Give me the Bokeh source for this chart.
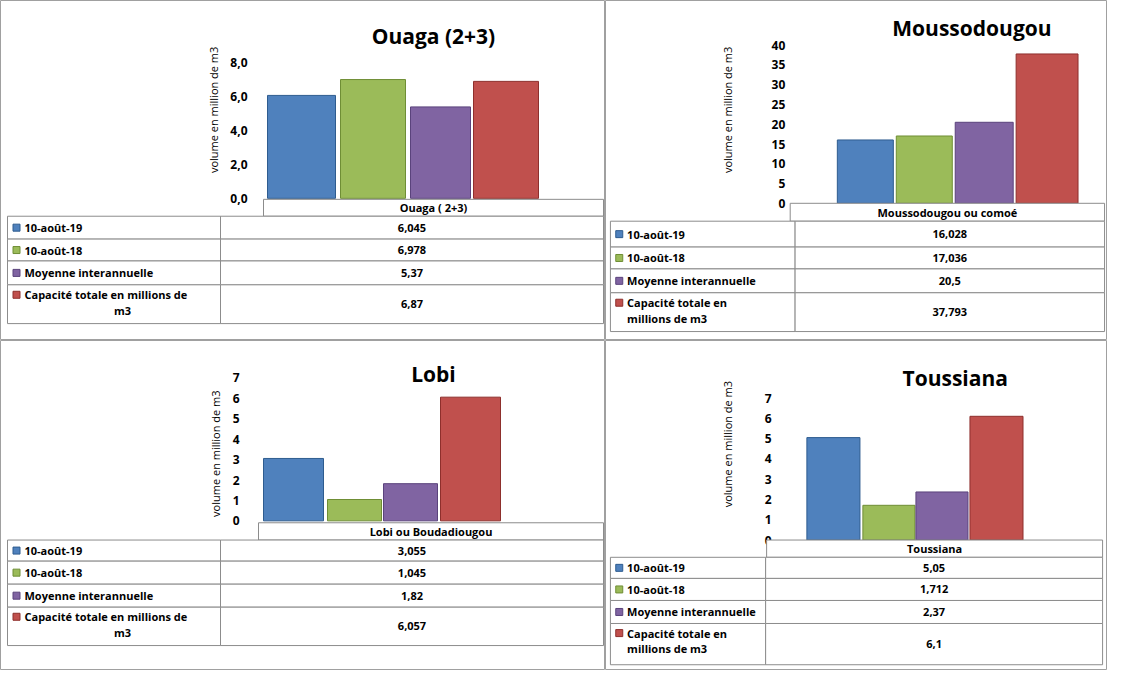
from bokeh.plotting import figure
from bokeh.models import Range1d
from bokeh.layouts import column, row
from bokeh.core.properties import value
from bokeh.embed import file_html
from bokeh.resources import INLINE
import math

series = ["10-août-19", "10-août-18", "Moyenne interannuelle", "Capacité totale en millions de m3"]
colors = ["#4F81BD", "#9BBB59", "#8064A2", "#C0504D"]
edges = ["#2E5C8F", "#6F8E35", "#5A437C", "#8E2F2C"]

ouaga_vals = [6.045, 6.978, 5.37, 6.87]
mousso_vals = [16.028, 17.036, 20.5, 37.793]
lobi_vals = [3.055, 1.045, 1.82, 6.057]
toussi_vals = [5.05, 1.712, 2.37, 6.1]

ouaga_ticks = [0, 2, 4, 6, 8]
mousso_ticks = [0, 5, 10, 15, 20, 25, 30, 35, 40]
lobi_ticks = [0, 1, 2, 3, 4, 5, 6, 7]
toussi_ticks = [0, 1, 2, 3, 4, 5, 6, 7]

FONT = value("Open Sans")


def fmt(v):
    return str(v).replace(".", ",")


def panel(cfg):
    ox, oy, W, H = cfg["frame"]
    y0, ytp, ytv = cfg["yscale"]
    k = (y0 - ytp) / ytv
    p = figure(width=cfg["w"], height=cfg["h"], output_backend="svg", toolbar_location=None,
               x_range=Range1d(ox, ox + W),
               y_range=Range1d((y0 - oy - H) / k, (y0 - oy) / k),
               min_border=0)
    p.extra_y_ranges = {"px": Range1d(oy + H, oy)}
    p.axis.visible = False
    p.grid.visible = False
    p.outline_line_color = "#A0A0A0"
    p.background_fill_color = "white"

    # title
    p.text(x=[cfg["title_xy"][0]], y=[cfg["title_xy"][1]], text=[cfg["title"]], y_range_name="px",
           text_font=FONT, text_font_style="bold", text_font_size="21px",
           text_align="center", text_baseline="middle")
    # axis label
    p.text(x=[cfg["axlab"][0]], y=[cfg["axlab"][1]], text=["volume en million de m3"], y_range_name="px",
           angle=math.pi / 2, text_font=FONT, text_font_size="11px",
           text_align="center", text_baseline="middle")
    # tick labels
    ticks = cfg["ticks"]
    labels = [cfg["tickfmt"](t) for t in ticks]
    p.text(x=[cfg["lab_x"]] * len(ticks), y=ticks, text=labels, text_font=FONT,
           text_font_style="bold", text_font_size="12px", text_align="right", text_baseline="middle")
    # bars
    bx = cfg["bars"]
    vals = cfg["vals"]
    p.vbar(x=[(a + b) / 2 for a, b in bx], width=[b - a for a, b in bx], top=vals, bottom=0,
           fill_color=colors, line_color=edges, line_width=1)
    # category header
    l, r, t, b = cfg["cat"]
    p.quad(left=[l], right=[r], top=[t], bottom=[b], y_range_name="px",
           fill_color="white", line_color="#8C8C8C")
    p.text(x=[(l + r) / 2], y=[(t + b) / 2], text=[cfg["cat_label"]], y_range_name="px",
           text_font=FONT, text_font_style="bold", text_font_size="11px",
           text_align="center", text_baseline="middle")
    # table
    tl, tm, tr = cfg["cols"]
    rows = cfg["rows"]
    tops = rows[:-1]
    bots = rows[1:]
    p.quad(left=[tl] * 4, right=[tm] * 4, top=tops, bottom=bots, y_range_name="px",
           fill_color="white", line_color="#8C8C8C")
    p.quad(left=[tm] * 4, right=[tr] * 4, top=tops, bottom=bots, y_range_name="px",
           fill_color="white", line_color="#8C8C8C")
    mids = [(a + b) / 2 for a, b in zip(tops, bots)]
    mk_y = mids[:3] + [tops[3] + 10]
    p.scatter(x=[tl + 9] * 4, y=mk_y, marker="square", size=7, fill_color=colors,
              line_color=edges, y_range_name="px")
    p.text(x=[tl + 17] * 3, y=mids[:3], text=cfg["legend"][:3], y_range_name="px",
           text_font=FONT, text_font_style="bold", text_font_size="11px",
           text_align="left", text_baseline="middle")
    l1, l2 = cfg["legend"][3]
    p.text(x=[tl + 17], y=[tops[3] + 10], text=[l1], y_range_name="px",
           text_font=FONT, text_font_style="bold", text_font_size="11px",
           text_align="left", text_baseline="middle")
    x2 = tl + 17 if cfg["l2_left"] else (tl + 17 + tm) / 2
    p.text(x=[x2], y=[tops[3] + 26], text=[l2], y_range_name="px",
           text_font=FONT, text_font_style="bold", text_font_size="11px",
           text_align="left" if cfg["l2_left"] else "center", text_baseline="middle")
    p.text(x=[(tm + tr) / 2] * 4, y=mids, text=[fmt(v) for v in vals], y_range_name="px",
           text_font=FONT, text_font_style="bold", text_font_size="11px",
           text_align="center", text_baseline="middle")
    return p


legend_a = series[:3] + [("Capacité totale en millions de", "m3")]
legend_b = series[:3] + [("Capacité totale en", "millions de m3")]

p1 = panel(dict(w=605, h=340, frame=(5, 0, 605, 342), yscale=(199, 62, 8),
                title="Ouaga (2+3)", title_xy=(438, 36), axlab=(218, 110),
                ticks=ouaga_ticks, tickfmt=lambda t: ("%.1f" % t).replace(".", ","), lab_x=252,
                bars=[(272, 340), (345, 410), (415, 475), (478, 543)], vals=ouaga_vals,
                cat=(268, 608, 200, 217), cat_label="Ouaga ( 2+3)",
                cols=(12, 225, 608), rows=[217, 240, 262, 286, 325], legend=legend_a, l2_left=False))
p2 = panel(dict(w=502, h=340, frame=(612, 0, 511, 342), yscale=(204, 45, 40),
                title="Moussodougou", title_xy=(985, 28), axlab=(736, 110),
                ticks=mousso_ticks, tickfmt=lambda t: str(t), lab_x=795,
                bars=[(848, 905), (908, 965), (968, 1027), (1030, 1093)], vals=mousso_vals,
                cat=(800, 1120, 204, 222), cat_label="Moussodougou ou comoé",
                cols=(617, 805, 1120), rows=[222, 248, 270, 294, 333], legend=legend_b, l2_left=True))
p3 = panel(dict(w=605, h=330, frame=(5, 342, 605, 344), yscale=(530, 381, 7),
                title="Lobi", title_xy=(438, 377), axlab=(220, 460),
                ticks=lobi_ticks, tickfmt=lambda t: str(t), lab_x=244,
                bars=[(268, 328), (332, 386), (388, 442), (445, 505)], vals=lobi_vals,
                cat=(263, 608, 532, 550), cat_label="Lobi ou Boudadiougou",
                cols=(12, 225, 608), rows=[550, 572, 596, 620, 660], legend=legend_a, l2_left=False))
p4 = panel(dict(w=502, h=330, frame=(612, 342, 511, 344), yscale=(550, 402, 7),
                title="Toussiana", title_xy=(968, 381), axlab=(736, 450),
                ticks=toussi_ticks, tickfmt=lambda t: str(t), lab_x=781,
                bars=[(817, 871), (874, 927), (928, 981), (983, 1037)], vals=toussi_vals,
                cat=(776, 1118, 550, 568), cat_label="Toussiana",
                cols=(617, 775, 1118), rows=[568, 590, 613, 637, 680], legend=legend_b, l2_left=True))

layout = column(row(p1, p2), row(p3, p4))
open("out.html", "w").write(file_html(layout, INLINE))
